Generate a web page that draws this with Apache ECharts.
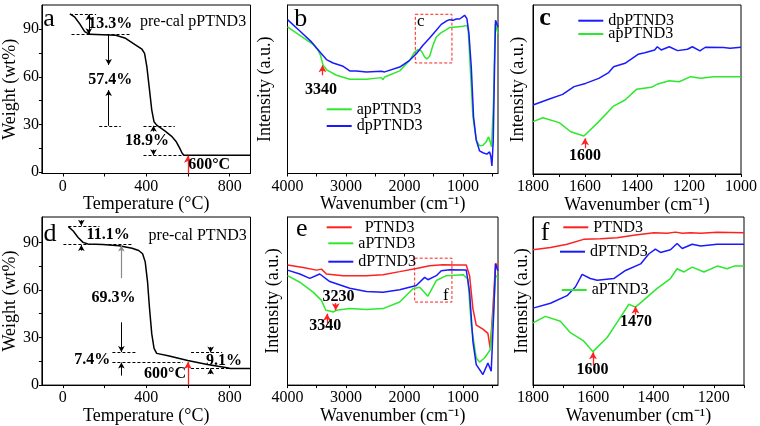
<!DOCTYPE html>
<html><head><meta charset="utf-8">
<script src="https://cdn.jsdelivr.net/npm/echarts@6/dist/echarts.min.js"></script>
<style>html,body{margin:0;padding:0;background:#fff}#c{width:760px;height:426px}</style>
</head><body><div id="c"></div>
<script>
// ---------------- DATA ----------------
// Panel a: TGA pre-cal pPTND3
const tgaA_T = [34.5, 58.0, 81.6, 105.1, 128.6, 191.4, 254.1, 301.2, 348.2, 379.6, 392.2, 403.1, 414.1, 426.7, 437.6, 450.2, 489.4, 520.8, 544.3, 560.0, 572.5, 580.4, 900];
const tgaA_W = [99.7, 97.6, 93.4, 88.5, 86.8, 86.6, 86.2, 84.3, 80.1, 77.4, 74.8, 66.4, 53.8, 39.0, 31.6, 29.5, 25.9, 22.6, 19.0, 15.2, 11.8, 10.5, 10.5];
// Panel d: TGA pre-cal PTND3
const tgaD_T = [26.7, 50.2, 73.7, 97.3, 120.8, 191.4, 269.8, 332.6, 363.9, 382.7, 395.3, 406.3, 415.7, 426.7, 437.6, 450.2, 505.1, 599.2, 693.3, 787.4, 803.1, 900];
const tgaD_W = [99.9, 97.2, 93.1, 90.0, 89.0, 88.6, 87.8, 86.3, 84.9, 82.8, 77.7, 65.3, 48.8, 32.3, 23.1, 20.0, 18.5, 15.5, 13.0, 10.9, 10.5, 10.5];

// Panel b: FTIR
const bDp_W = [4000, 3789, 3590, 3419, 3334, 3220, 3049, 2935, 2822, 2651, 2395, 2366, 2338, 2081, 1911, 1797, 1683, 1569, 1455, 1370, 1284, 1227, 1171, 1114, 1057, 971, 932, 897, 857, 818, 772, 715, 658, 590, 544, 521, 504, 481, 459, 442, 419, 400];
const bDp_I = [91.3, 84.6, 78.1, 71.1, 67.6, 65.6, 63.6, 60.9, 60.9, 60.3, 60.7, 61.7, 60.3, 63.2, 67.2, 71.1, 76.1, 80.4, 85.0, 88.5, 90.5, 91.3, 90.9, 91.7, 91.7, 93.9, 91.9, 83.0, 63.2, 33.6, 19.8, 13.4, 12.3, 11.5, 12.8, 9.9, 4.5, 19.8, 63.2, 90.9, 91.9, 87.0];
const bAp_W = [4000, 3789, 3562, 3476, 3436, 3391, 3323, 3163, 2935, 2651, 2395, 2366, 2338, 2081, 1911, 1826, 1768, 1711, 1655, 1615, 1569, 1512, 1455, 1370, 1284, 1227, 1114, 1000, 932, 909, 875, 829, 772, 715, 658, 601, 561, 533, 510, 476, 448, 419, 400];
const bAp_I = [87.0, 82.0, 76.7, 73.1, 70.2, 64.2, 61.3, 58.3, 55.9, 55.9, 56.9, 55.7, 57.3, 60.9, 67.2, 72.1, 73.5, 72.7, 69.2, 68.0, 69.6, 76.1, 81.0, 83.6, 85.4, 86.6, 87.0, 87.4, 87.9, 85.0, 63.2, 33.6, 19.8, 16.4, 16.8, 18.8, 21.7, 18.8, 15.8, 43.5, 88.9, 87.9, 83.0];

// Panel c: FTIR zoom
const cDp_W = [1800, 1737, 1686, 1642, 1598, 1547, 1509, 1490, 1446, 1396, 1370, 1332, 1322, 1307, 1276, 1244, 1206, 1187, 1158, 1137, 1067, 1042, 1000];
const cDp_I = [40.8, 44.4, 47.1, 51.7, 53.6, 56.6, 60.0, 63.5, 65.5, 70.8, 71.8, 73.4, 75.3, 73.4, 75.3, 73.0, 73.8, 75.3, 72.8, 75.0, 74.8, 74.4, 75.0];
const cAp_W = [1800, 1762, 1699, 1655, 1604, 1547, 1490, 1446, 1402, 1345, 1320, 1276, 1238, 1193, 1155, 1105, 1000];
const cAp_I = [31.0, 33.3, 30.4, 25.0, 22.5, 31.0, 40.2, 43.8, 50.1, 51.3, 53.3, 55.2, 54.6, 57.6, 56.6, 57.6, 57.6];

// Panel e: FTIR
const eP_W = [4000, 3732, 3505, 3419, 3334, 3049, 2651, 2366, 2081, 1797, 1569, 1341, 1114, 943, 886, 829, 772, 658, 573, 533, 487, 442, 402];
const eP_I = [71.4, 70.0, 68.4, 69.0, 66.1, 65.1, 65.1, 65.7, 67.5, 69.4, 71.0, 71.6, 71.4, 71.4, 65.1, 45.5, 35.7, 33.3, 30.8, 22.0, 45.5, 72.5, 70.0];
const eA_W = [4000, 3789, 3562, 3419, 3345, 3277, 3220, 3163, 2935, 2651, 2366, 2081, 1854, 1740, 1598, 1455, 1284, 1000, 914, 857, 772, 715, 630, 533, 476, 442, 402];
const eA_I = [65.1, 61.2, 55.3, 50.4, 44.5, 44.1, 43.5, 44.5, 45.5, 44.9, 45.5, 49.4, 57.3, 58.2, 52.9, 62.2, 65.1, 65.7, 63.1, 35.7, 16.1, 13.7, 16.1, 21.0, 45.5, 65.1, 64.1];
const eD_W = [4000, 3789, 3619, 3448, 3277, 2935, 2651, 2366, 2081, 1797, 1655, 1598, 1455, 1370, 1227, 943, 886, 829, 772, 658, 573, 516, 470, 442, 402];
const eD_I = [68.4, 66.1, 63.5, 66.1, 61.6, 57.6, 55.7, 55.3, 56.7, 59.2, 64.1, 62.7, 65.1, 68.0, 68.6, 68.4, 55.3, 25.9, 12.2, 6.3, 13.1, 8.2, 45.5, 72.0, 68.0];

// Panel f: FTIR zoom
const fP_W = [1800, 1742, 1687, 1632, 1576, 1521, 1466, 1399, 1355, 1327, 1305, 1277, 1244, 1189, 1100];
const fP_I = [80.5, 81.9, 83.8, 86.7, 87.1, 87.7, 89.1, 90.6, 90.3, 91.0, 90.3, 90.6, 90.3, 91.0, 90.6];
const fD_W = [1800, 1742, 1687, 1659, 1637, 1610, 1587, 1532, 1493, 1443, 1416, 1394, 1377, 1344, 1322, 1305, 1272, 1244, 1189, 1100];
const fD_I = [45.8, 48.7, 53.2, 58.5, 65.9, 63.4, 62.4, 63.4, 68.2, 72.1, 78.0, 80.9, 78.9, 80.5, 84.2, 81.3, 83.8, 82.8, 83.8, 83.8];
const fA_W = [1800, 1759, 1709, 1676, 1632, 1601, 1554, 1515, 1482, 1460, 1432, 1388, 1344, 1322, 1299, 1272, 1233, 1189, 1156, 1133, 1100];
const fA_I = [37.0, 40.9, 38.0, 31.2, 26.3, 19.9, 28.3, 39.0, 48.1, 46.4, 50.7, 57.5, 63.4, 69.2, 67.3, 70.2, 67.3, 70.8, 69.2, 70.8, 70.8];

// Tick values / labels
const tempTicks = [0, 200, 400, 600, 800];
const tempLabels = [0, 400, 800];
const weightTicks = [0, 15, 30, 45, 60, 75, 90];
const weightLabels = [0, 30, 60, 90];
const wnTicks = [500, 1000, 1500, 2000, 2500, 3000, 3500, 4000];
const wnLabels = [1000, 2000, 3000, 4000];
const wnCTicks = [1000, 1100, 1200, 1300, 1400, 1500, 1600, 1700, 1800];
const wnCLabels = [1000, 1200, 1400, 1600, 1800];
const wnFTicks = [1100, 1200, 1300, 1400, 1500, 1600, 1700, 1800];
const wnFLabels = [1200, 1400, 1600, 1800];

// Annotation texts: [text, x, y, weight]
const annTextA = [['13.3%', 230, 92.8, 'b'], ['pre-cal pPTND3', 627, 94.2, 'n'], ['57.4%', 230, 58, 'b'], ['18.9%', 406, 19, 'b'], ['600°C', 704, 4.2, 'b']];
const annTextD = [['11.1%', 220, 94.6, 'b'], ['pre-cal PTND3', 649, 94.1, 'n'], ['69.3%', 246, 55, 'b'], ['7.4%', 144, 15.9, 'b'], ['600°C', 493, 6.6, 'b'], ['9.1%', 775, 14.8, 'b']];
const annTextB = [['c', 1711, 90, 'n'], ['3340', 3420, 49.4, 'b']];
const annTextC = [['1600', 1598, 10.3, 'b']];
const annTextE = [['f', 1284, 53, 'n'], ['3340', 3345, 34.7, 'b'], ['3230', 3118, 52.4, 'b']];
const annTextF = [['1600', 1601, 8.8, 'b'], ['1470', 1457, 37.4, 'b']];
// Annotation lines: [kind, x1, y1, x2, y2]
const annLineA = [['dash', 34, 99.5, 160, 99.5], ['dash', 42, 86.8, 325, 86.8], ['arrow2', 125, 99.5, 125, 86.8],
  ['arrow', 220, 86.8, 220, 67.5], ['arrow', 220, 29.1, 220, 51.6], ['dash', 175, 29.1, 278, 29.1],
  ['dash', 387, 29.1, 537, 29.1], ['arrow', 435, 25.5, 435, 29.1], ['arrow', 435, 14, 435, 10.5],
  ['dash', 387, 10.5, 576, 10.5], ['red', 600, -1, 600, 10.2]];
const annLineD = [['dash', 27, 100.3, 176, 100.3], ['dash', 3, 88.6, 333, 88.6], ['arrow', 89, 104, 89, 100.5],
  ['arrow', 89, 84.8, 89, 88.4], ['gray', 281, 67.4, 281, 88], ['arrow', 281, 39.6, 281, 20.8],
  ['dash', 238, 20.6, 356, 20.6], ['dash', 238, 14.6, 576, 14.6], ['arrow', 281, 6, 281, 14.2],
  ['red', 600, 0, 600, 14.6], ['dash', 615, 20.4, 764, 20.4], ['dash', 615, 10.7, 850, 10.7],
  ['arrow', 709, 24, 709, 20.6], ['arrow', 709, 7, 709, 10.5]];
const annLineB = [['red', 3402, 58.3, 3402, 64.2]];
const annLineC = [['red', 1600, 15.2, 1600, 21.1]];
const annLineE = [['red', 3323, 36.7, 3323, 42.5], ['red', 3175, 48.8, 3175, 44.5]];
const annLineF = [['red', 1601, 11.7, 1601, 19.5], ['red', 1460, 41.9, 1460, 46.8]];
// Dashed boxes: [x1, y1, x2, y2]
const annRectB = [[1814, 94.5, 1188, 65.6]];
const annRectE = [[1825, 75.5, 1188, 49.4]];

// ---------------- CHART ----------------
const FONT = '"Liberation Serif", "Times New Roman", serif';
const COL = { blue: '#1a1aff', green: '#2ee82e', red: '#ff2020', black: '#000' };
const zip = (xs, ys) => xs.map((x, i) => [x, ys[i]]);
const plain = v => String(v);

const grids = [
  { left: 39, top: 5, width: 211.5, height: 168.5 },
  { left: 287.5, top: 5, width: 210.5, height: 168.5 },
  { left: 533, top: 5, width: 211, height: 169 },
  { left: 39, top: 217, width: 211.5, height: 171.3 },
  { left: 287.5, top: 217, width: 210.5, height: 170.5 },
  { left: 533, top: 217, width: 211, height: 171.3 }
].map(g => Object.assign({ show: true, borderColor: '#000', borderWidth: 1, backgroundColor: 'transparent' }, g));

function xAx(gi, min, max, inverse, ticks, labels, name, nameGap) {
  return { gridIndex: gi, type: 'value', min, max, inverse,
    axisLine: { show: true, onZero: false, lineStyle: { color: '#000', width: 1 } },
    axisTick: { show: true, inside: false, length: 3, customValues: ticks, lineStyle: { color: '#000' } },
    axisLabel: { show: true, customValues: labels, formatter: plain, margin: 5, fontSize: 16, fontFamily: FONT, color: '#000' },
    splitLine: { show: false },
    name, nameLocation: 'middle', nameGap, nameTextStyle: { fontSize: 18, fontFamily: FONT, color: '#000' } };
}
function yAx(gi, min, max, ticks, labels, name, nameGap) {
  const o = { gridIndex: gi, type: 'value', min, max,
    axisLine: { show: true, onZero: false, lineStyle: { color: '#000', width: 1 } },
    splitLine: { show: false },
    name, nameLocation: 'middle', nameGap, nameRotate: 90, nameTextStyle: { fontSize: 18, fontFamily: FONT, color: '#000' } };
  if (ticks) {
    o.axisTick = { show: true, inside: false, length: 3, customValues: ticks, lineStyle: { color: '#000' } };
    o.axisLabel = { show: true, customValues: labels, formatter: plain, margin: 3, fontSize: 16, fontFamily: FONT, color: '#000' };
  } else {
    o.axisTick = { show: false };
    o.axisLabel = { show: false };
  }
  return o;
}

const WN = 'Wavenumber (cm\u207B\u00B9)';
const xAxis = [
  xAx(0, -100, 900, false, tempTicks, tempLabels, 'Temperature (°C)', 14),
  xAx(1, 400, 4000, true, wnTicks, wnLabels, WN, 15),
  xAx(2, 1000, 1800, true, wnCTicks, wnCLabels, WN, 15),
  xAx(3, -100, 900, false, tempTicks, tempLabels, 'Temperature (°C)', 18),
  xAx(4, 400, 4000, true, wnTicks, wnLabels, WN, 18),
  xAx(5, 1100, 1800, true, wnFTicks, wnFLabels, WN, 18)
];
const yAxis = [
  yAx(0, -1, 105.3, weightTicks, weightLabels, 'Weight (wt%)', 20),
  yAx(1, 0, 100, null, null, 'Intensity (a.u.)', 13),
  yAx(2, 0, 100, null, null, 'Intensity (a.u.)', 6),
  yAx(3, 0, 106, weightTicks, weightLabels, 'Weight (wt%)', 20),
  yAx(4, 0, 100, null, null, 'Intensity (a.u.)', 5),
  yAx(5, 0, 100, null, null, 'Intensity (a.u.)', 2)
];

function lineS(gi, name, xs, ys, color) {
  return { type: 'line', name, xAxisIndex: gi, yAxisIndex: gi, data: zip(xs, ys),
    showSymbol: false, symbol: 'none', smooth: false, animation: false,
    lineStyle: { color, width: 1.5 }, itemStyle: { color }, z: 3 };
}
const LSTYLE = {
  dash: { color: '#000', type: [3, 2], width: 1 },
  arrow: { color: '#000', type: 'solid', width: 1 },
  arrow2: { color: '#000', type: 'solid', width: 1 },
  red: { color: COL.red, type: 'solid', width: 1.3 },
  gray: { color: '#8a8a8a', type: 'solid', width: 1.2 }
};
function mkLine(l) {
  const kind = l[0];
  const endSym = kind === 'dash' ? 'none' : 'arrow';
  const startSym = kind === 'arrow2' ? 'arrow' : 'none';
  const sz = kind === 'red' ? [6, 7] : [5, 6];
  return [{ coord: [l[1], l[2]], symbol: startSym, symbolSize: sz, lineStyle: LSTYLE[kind] },
          { coord: [l[3], l[4]], symbol: endSym, symbolSize: sz }];
}
function annS(gi, texts, lines, rects) {
  return { type: 'scatter', xAxisIndex: gi, yAxisIndex: gi, symbolSize: 1, silent: true, animation: false, z: 6,
    itemStyle: { color: 'rgba(255,255,255,0)', opacity: 1 },
    label: { show: true, position: [0, 0], align: 'center', verticalAlign: 'middle', formatter: '{b}',
      fontFamily: FONT, color: '#000', opacity: 1, fontSize: 16, textBorderWidth: 0 },
    data: texts.map(t => ({ value: [t[1], t[2]], name: t[0],
      label: { fontWeight: t[3] === 'b' ? 'bold' : 'normal', fontSize: (t[0].length === 1 ? 17 : 16), color: '#000', opacity: 1 } })),
    markLine: { silent: true, animation: false, symbol: 'none', label: { show: false }, data: lines.map(mkLine) },
    markArea: { silent: true, animation: false, label: { show: false },
      data: (rects || []).map(r => [{ coord: [r[0], r[1]], itemStyle: { color: 'rgba(0,0,0,0)', borderColor: COL.red, borderWidth: 1, borderType: [3, 2] } },
                                    { coord: [r[2], r[3]] }]) } };
}

const series = [
  lineS(0, 'tgaA', tgaA_T, tgaA_W, COL.black),
  lineS(1, 'apPTND3', bAp_W, bAp_I, COL.green),
  lineS(1, 'dpPTND3', bDp_W, bDp_I, COL.blue),
  lineS(2, 'dpPTND3', cDp_W, cDp_I, COL.blue),
  lineS(2, 'apPTND3', cAp_W, cAp_I, COL.green),
  lineS(3, 'tgaD', tgaD_T, tgaD_W, COL.black),
  lineS(4, 'PTND3', eP_W, eP_I, COL.red),
  lineS(4, 'aPTND3', eA_W, eA_I, COL.green),
  lineS(4, 'dPTND3', eD_W, eD_I, COL.blue),
  lineS(5, 'PTND3', fP_W, fP_I, COL.red),
  lineS(5, 'dPTND3', fD_W, fD_I, COL.blue),
  lineS(5, 'aPTND3', fA_W, fA_I, COL.green),
  annS(0, annTextA, annLineA),
  annS(1, annTextB, annLineB, annRectB),
  annS(2, annTextC, annLineC),
  annS(3, annTextD, annLineD),
  annS(4, annTextE, annLineE, annRectE),
  annS(5, annTextF, annLineF)
];

function leg(name, left, top, fmt) {
  return { data: [name], left, top, orient: 'horizontal', icon: 'rect', itemWidth: 25, itemHeight: 2,
    itemGap: 0, padding: 0, selectedMode: false,
    textStyle: { fontSize: 16, fontFamily: FONT, color: '#000' }, formatter: fmt || '{name}' };
}
const legend = [
  leg('apPTND3', 326.7, 101.3), leg('dpPTND3', 326.7, 118),
  leg('dpPTND3', 578.3, 12.7), leg('apPTND3', 578.3, 26),
  leg('PTND3', 326.7, 219.3, '  {name}'), leg('aPTND3', 328.3, 235.3), leg('dPTND3', 328.3, 253.7),
  leg('PTND3', 563.3, 219.3), leg('dPTND3', 560, 243.7), leg('aPTND3', 561.7, 282)
];

function letter(t, x, y, bold) {
  return { type: 'text', x, y, silent: true,
    style: { text: t, fill: '#000', font: (bold ? 'bold ' : '') + '26px ' + FONT, align: 'center', verticalAlign: 'middle' } };
}
const graphic = [
  letter('a', 49, 18.8), letter('b', 300.8, 19.5), letter('c', 545, 17.9, true),
  letter('d', 50, 234.5), letter('e', 301.7, 229.5), letter('f', 545, 232.9)
];

const chart = echarts.init(document.getElementById('c'), null, { renderer: 'canvas' });
chart.setOption({ animation: false, backgroundColor: '#fff', grid: grids, xAxis, yAxis, series, legend, graphic });
</script></body></html>
